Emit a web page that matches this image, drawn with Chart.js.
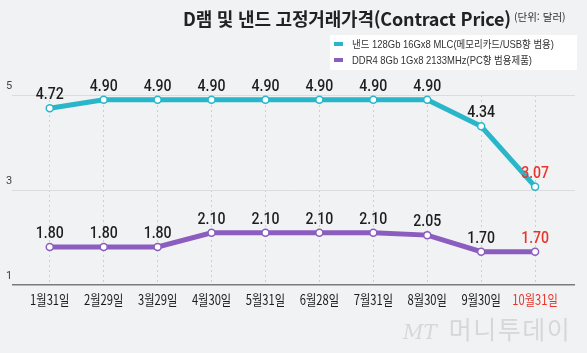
<!DOCTYPE html>
<html lang="ko">
<head>
<meta charset="utf-8">
<script src="https://cdn.jsdelivr.net/npm/chart.js@4.4.1/dist/chart.umd.min.js"></script>
<style>
  html, body { margin: 0; padding: 0; background: #f1f2f4; }
  #wrap { position: relative; width: 587px; height: 353px; overflow: hidden; font-family: "Noto Sans CJK KR", "Noto Sans", sans-serif; }
  #chart { position: absolute; left: 0; top: 0; }
  .title { position: absolute; left: 183px; top: 5px; font-size: 18px; font-weight: 700; color: #222; white-space: nowrap; letter-spacing: -0.2px; }
  .unit { position: absolute; left: 514px; top: 9px; font-size: 10.5px; color: #333; white-space: nowrap; }
  .legend { position: absolute; left: 330px; top: 35px; width: 247px; height: 35px; background: #fff; }
  .legend div { position: absolute; left: 22px; font-family: "Liberation Sans", "Noto Sans CJK KR", sans-serif; font-size: 10.5px; color: #333; white-space: nowrap; transform: scaleX(0.9); transform-origin: left center; }
  .legend span { position: absolute; left: 4px; width: 9px; height: 4px; }
  .mark { position: absolute; left: 403px; top: 310px; font-size: 25px; color: #d6d7d9; white-space: nowrap; letter-spacing: 1.5px; }
  .mark i { font-family: "DejaVu Serif", serif; font-size: 20px; margin-right: 12px; letter-spacing: 0; }
</style>
</head>
<body>
<div id="wrap">
  <canvas id="chart" width="587" height="353"></canvas>
  <div class="title">D램 및 낸드 고정거래가격(Contract Price)</div>
  <div class="unit">(단위: 달러)</div>
  <div class="legend">
    <span style="top:7px;background:#29b6c8"></span>
    <div style="top:1px">낸드 128Gb 16Gx8 MLC(메모리카드/USB향 범용)</div>
    <span style="top:23px;background:#8b5dbf"></span>
    <div style="top:17px">DDR4 8Gb 1Gx8 2133MHz(PC향 범용제품)</div>
  </div>
  <div class="mark"><i>MT</i>머니투데이</div>
</div>
<script>
// 월별 고정거래가격 (단위: 달러)
const months = ['1월31일', '2월29일', '3월29일', '4월30일', '5월31일', '6월28일', '7월31일', '8월30일', '9월30일', '10월31일'];
const nandPrice = [4.72, 4.90, 4.90, 4.90, 4.90, 4.90, 4.90, 4.90, 4.34, 3.07];
const dramPrice = [1.80, 1.80, 1.80, 2.10, 2.10, 2.10, 2.10, 2.05, 1.70, 1.70];
const yTicks = [1, 3, 5];

const NAND_COLOR = '#29b6c8';
const DRAM_COLOR = '#8b5dbf';
const RED = '#e8352b';
const last = months.length - 1;

function toPoints(values) {
    return values.map((v, i) => ({ x: i, y: v }));
}

// 값 라벨 + x축 라벨을 직접 그림 (좁은 글꼴 흉내)
const labelPlugin = {
    id: 'labels',
    afterDatasetsDraw(chart) {
        const ctx = chart.ctx;
        ctx.save();
        ctx.textAlign = 'center';
        ctx.textBaseline = 'middle';

        chart.data.datasets.forEach((ds, di) => {
            const meta = chart.getDatasetMeta(di);
            meta.data.forEach((pt, i) => {
                ctx.save();
                ctx.translate(pt.x, pt.y - 13);
                ctx.scale(0.88, 1);
                ctx.font = '500 16px Roboto, "Liberation Sans", sans-serif';
                ctx.fillStyle = i === last ? RED : '#1d1d1d';
                ctx.fillText(ds.data[i].y.toFixed(2), 0, 0);
                ctx.restore();
            });
        });

        const xScale = chart.scales.x;
        const yBase = chart.chartArea.bottom + 15;
        months.forEach((m, i) => {
            ctx.save();
            ctx.translate(xScale.getPixelForValue(i), yBase);
            ctx.scale(0.8, 1);
            ctx.font = '14px "Noto Sans CJK KR", sans-serif';
            ctx.fillStyle = i === last ? RED : '#1a1a1a';
            ctx.fillText(m, 0, 0);
            ctx.restore();
        });
        ctx.restore();
    }
};

new Chart(document.getElementById('chart'), {
    type: 'line',
    data: {
        datasets: [{
            label: '낸드 128Gb 16Gx8 MLC(메모리카드/USB향 범용)',
            data: toPoints(nandPrice),
            borderColor: NAND_COLOR,
            borderWidth: 5,
            pointRadius: 3.5,
            pointBackgroundColor: '#fff',
            pointBorderColor: NAND_COLOR,
            pointBorderWidth: 1.5,
            tension: 0,
            clip: false
        }, {
            label: 'DDR4 8Gb 1Gx8 2133MHz(PC향 범용제품)',
            data: toPoints(dramPrice),
            borderColor: DRAM_COLOR,
            borderWidth: 5,
            pointRadius: 3.5,
            pointBackgroundColor: '#fff',
            pointBorderColor: DRAM_COLOR,
            pointBorderWidth: 1.5,
            tension: 0,
            clip: false
        }]
    },
    options: {
        responsive: false,
        animation: false,
        layout: { padding: { left: 12, right: 12, top: 95, bottom: 68 } },
        plugins: {
            legend: { display: false },
            title: { display: false },
            tooltip: { enabled: false }
        },
        scales: {
            x: {
                type: 'linear',
                min: -0.7,
                max: 9.74,
                ticks: { display: false, stepSize: 1, includeBounds: false },
                grid: { color: '#cfcfcf', lineWidth: 1, drawTicks: false },
                border: { display: false, dash: [2, 3] }
            },
            y: {
                min: 1,
                max: 5,
                afterBuildTicks: (axis) => { axis.ticks = yTicks.map(v => ({ value: v })); },
                ticks: {
                    mirror: true,
                    padding: -2,
                    labelOffset: -9,
                    color: '#444',
                    font: { family: 'Roboto, sans-serif', size: 11 }
                },
                grid: {
                    drawTicks: false,
                    color: (c) => c.tick && c.tick.value === 1 ? '#7a7a7a' : '#dcdcdc',
                    lineWidth: (c) => c.tick && c.tick.value === 1 ? 1.5 : 1
                },
                border: { display: false }
            }
        }
    },
    plugins: [labelPlugin]
});
</script>
</body>
</html>
